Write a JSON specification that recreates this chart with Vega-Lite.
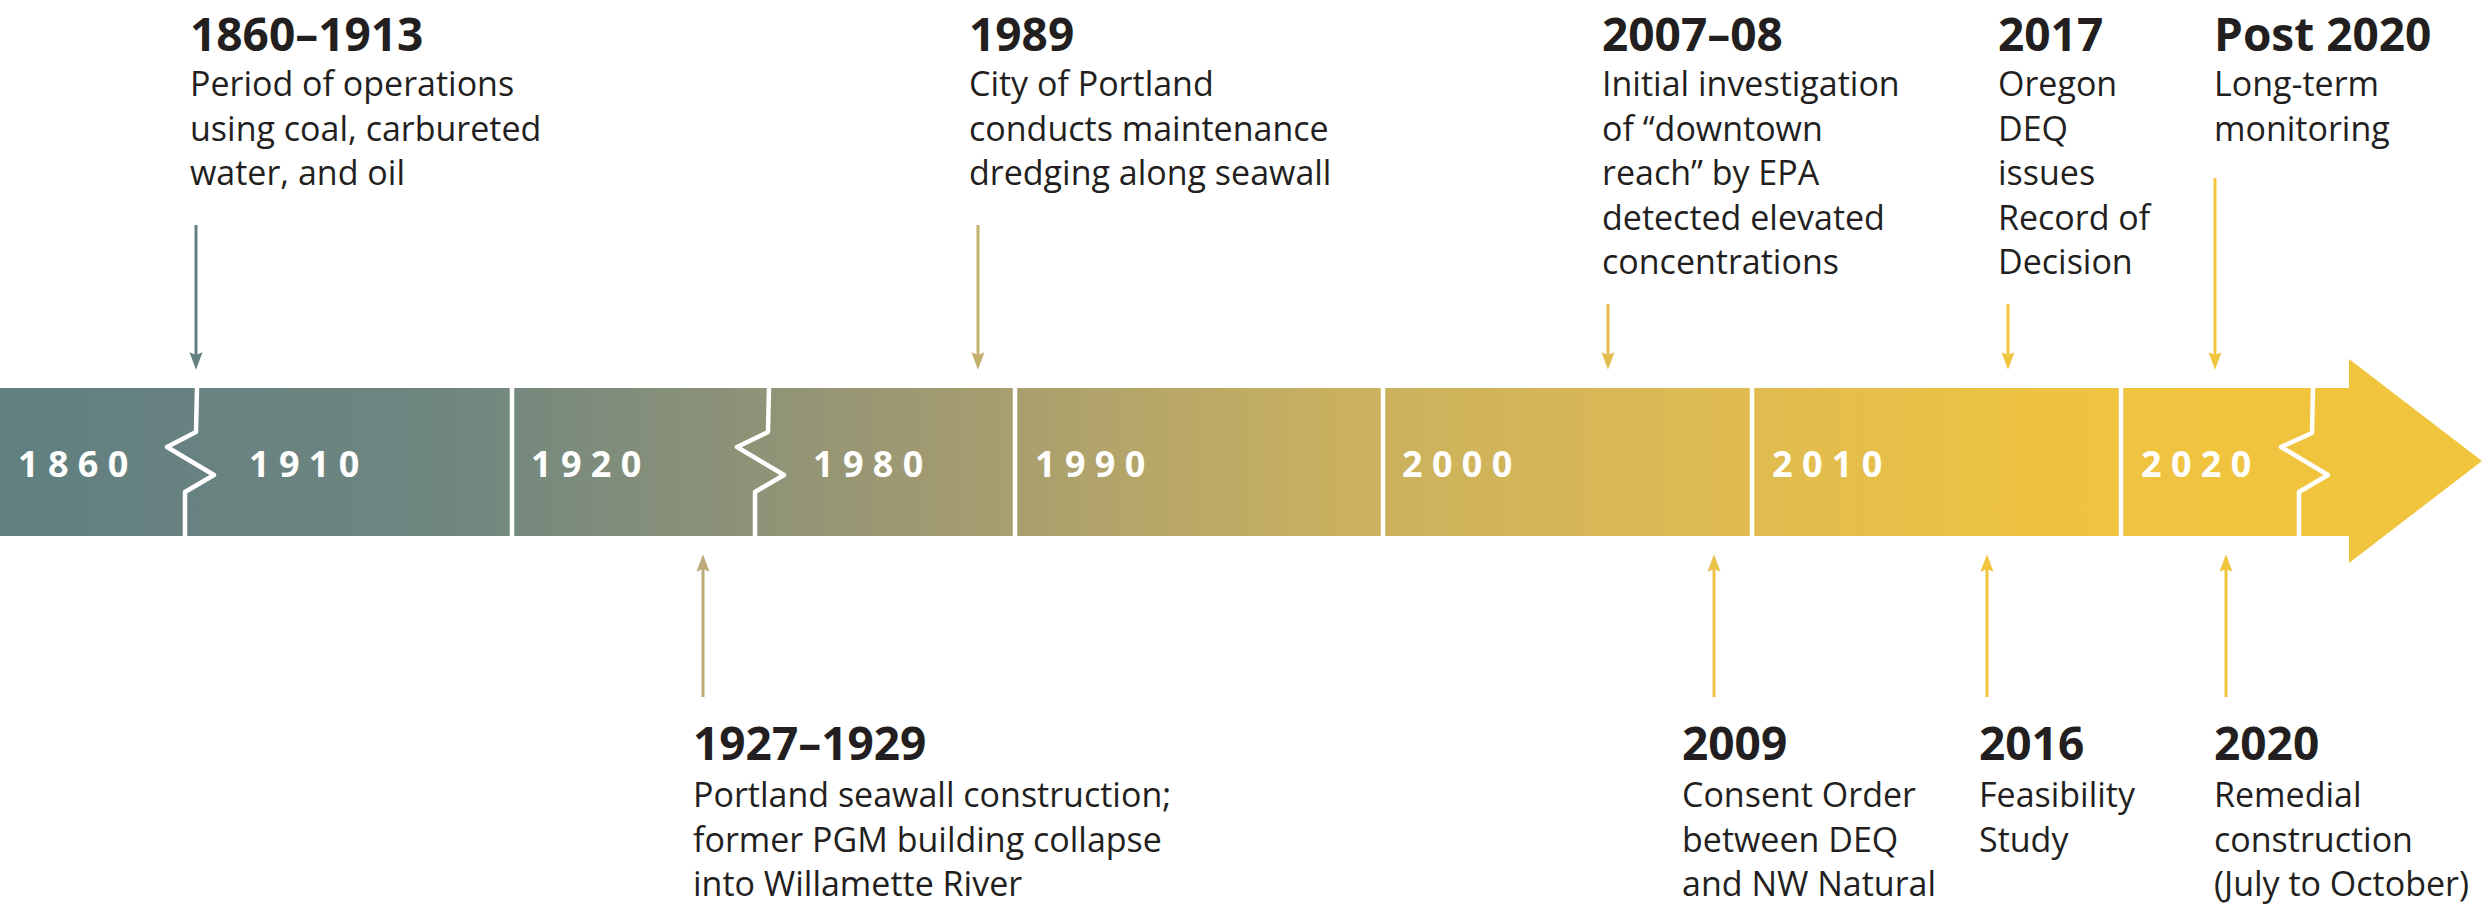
{
  "$schema": "https://vega.github.io/schema/vega-lite/v6.json",
  "autosize": {"type": "fit", "contains": "padding"},
  "width": 2483,
  "height": 909,
  "padding": 0,
  "background": "white",
  "config": {"view": {"stroke": null}},
  "datasets": {
    "bar": [{"x0": 0, "x1": 2352, "y0": 388, "y1": 536}],
    "head": [{"x": 2349, "top": 359, "bot": 563}, {"x": 2482, "top": 461, "bot": 461}],
    "seps": [
      {"x": 512, "y0": 388, "y1": 536},
      {"x": 1015, "y0": 388, "y1": 536},
      {"x": 1383, "y0": 388, "y1": 536},
      {"x": 1752, "y0": 388, "y1": 536},
      {"x": 2121, "y0": 388, "y1": 536}
    ],
    "breaks": [
      {"brk": "A", "seq": 1, "x": 197, "y": 388},
      {"brk": "A", "seq": 2, "x": 196, "y": 432},
      {"brk": "A", "seq": 3, "x": 167, "y": 447},
      {"brk": "A", "seq": 4, "x": 214, "y": 475},
      {"brk": "A", "seq": 5, "x": 185, "y": 492},
      {"brk": "A", "seq": 6, "x": 185, "y": 536},
      {"brk": "B", "seq": 1, "x": 769, "y": 388},
      {"brk": "B", "seq": 2, "x": 768, "y": 432},
      {"brk": "B", "seq": 3, "x": 737, "y": 447},
      {"brk": "B", "seq": 4, "x": 784, "y": 475},
      {"brk": "B", "seq": 5, "x": 755, "y": 492},
      {"brk": "B", "seq": 6, "x": 755, "y": 536},
      {"brk": "C", "seq": 1, "x": 2313, "y": 388},
      {"brk": "C", "seq": 2, "x": 2312, "y": 433},
      {"brk": "C", "seq": 3, "x": 2281, "y": 447},
      {"brk": "C", "seq": 4, "x": 2328, "y": 475},
      {"brk": "C", "seq": 5, "x": 2299, "y": 492},
      {"brk": "C", "seq": 6, "x": 2299, "y": 536}
    ],
    "years": [
      {"label": "1 8 6 0", "x": 18, "y": 477},
      {"label": "1 9 1 0", "x": 249, "y": 477},
      {"label": "1 9 2 0", "x": 531, "y": 477},
      {"label": "1 9 8 0", "x": 813, "y": 477},
      {"label": "1 9 9 0", "x": 1035, "y": 477},
      {"label": "2 0 0 0", "x": 1402, "y": 477},
      {"label": "2 0 1 0", "x": 1772, "y": 477},
      {"label": "2 0 2 0", "x": 2141, "y": 477}
    ],
    "arrows": [
      {"event": "1860–1913", "dir": "down", "x": 196, "y0": 225, "hy": 361},
      {"event": "1989", "dir": "down", "x": 978, "y0": 225, "hy": 361},
      {"event": "2007–08", "dir": "down", "x": 1608, "y0": 304, "hy": 361},
      {"event": "2017", "dir": "down", "x": 2008, "y0": 304, "hy": 361},
      {"event": "Post 2020", "dir": "down", "x": 2215, "y0": 178, "hy": 361},
      {"event": "1927–1929", "dir": "up", "x": 703, "y0": 697, "hy": 563},
      {"event": "2009", "dir": "up", "x": 1714, "y0": 697, "hy": 563},
      {"event": "2016", "dir": "up", "x": 1987, "y0": 697, "hy": 563},
      {"event": "2020", "dir": "up", "x": 2226, "y0": 697, "hy": 563}
    ],
    "events": [
      {"title": "1860–1913", "body": "Period of operations\nusing coal, carbureted\nwater, and oil", "x": 190, "ty": 51, "by": 96},
      {"title": "1989", "body": "City of Portland\nconducts maintenance\ndredging along seawall", "x": 969, "ty": 51, "by": 96},
      {"title": "2007–08", "body": "Initial investigation\nof “downtown\nreach” by EPA\ndetected elevated\nconcentrations", "x": 1602, "ty": 51, "by": 96},
      {"title": "2017", "body": "Oregon\nDEQ\nissues\nRecord of\nDecision", "x": 1998, "ty": 51, "by": 96},
      {"title": "Post 2020", "body": "Long-term\nmonitoring", "x": 2214, "ty": 51, "by": 96},
      {"title": "1927–1929", "body": "Portland seawall construction;\nformer PGM building collapse\ninto Willamette River", "x": 693, "ty": 760, "by": 807},
      {"title": "2009", "body": "Consent Order\nbetween DEQ\nand NW Natural", "x": 1682, "ty": 760, "by": 807},
      {"title": "2016", "body": "Feasibility\nStudy", "x": 1979, "ty": 760, "by": 807},
      {"title": "2020", "body": "Remedial\nconstruction\n(July to October)", "x": 2214, "ty": 760, "by": 807}
    ]
  },
  "layer": [
    {
      "data": {"name": "bar"},
      "mark": {
        "type": "rect",
        "fill": {
          "gradient": "linear", "x1": 0, "y1": 0, "x2": 1, "y2": 0,
          "stops": [
            {"offset": 0, "color": "#617f80"},
            {"offset": 0.19, "color": "#6f8680"},
            {"offset": 0.395, "color": "#a09a72"},
            {"offset": 0.565, "color": "#c8b060"},
            {"offset": 0.714, "color": "#dcb953"},
            {"offset": 0.863, "color": "#eec342"},
            {"offset": 1, "color": "#f0c43c"}
          ]
        }
      },
      "encoding": {
        "x": {"field": "x0", "type": "quantitative", "scale": {"domain": [0, 2483], "nice": false, "zero": false}, "axis": null},
        "x2": {"field": "x1"},
        "y": {"field": "y0", "type": "quantitative", "scale": {"domain": [0, 909], "nice": false, "zero": false, "reverse": true}, "axis": null},
        "y2": {"field": "y1"}
      }
    },
    {
      "data": {"name": "head"},
      "mark": {"type": "area", "color": "#f0c43c", "interpolate": "linear"},
      "encoding": {
        "x": {"field": "x", "type": "quantitative"},
        "y": {"field": "top", "type": "quantitative"},
        "y2": {"field": "bot"}
      }
    },
    {
      "data": {"name": "seps"},
      "mark": {"type": "rule", "color": "white", "strokeWidth": 4.5},
      "encoding": {
        "x": {"field": "x", "type": "quantitative"},
        "y": {"field": "y0", "type": "quantitative"},
        "y2": {"field": "y1"}
      }
    },
    {
      "data": {"name": "breaks"},
      "mark": {"type": "line", "color": "white", "strokeWidth": 4.5, "strokeJoin": "round"},
      "encoding": {
        "x": {"field": "x", "type": "quantitative"},
        "y": {"field": "y", "type": "quantitative"},
        "detail": {"field": "brk"},
        "order": {"field": "seq", "type": "quantitative"}
      }
    },
    {
      "data": {"name": "years"},
      "mark": {"type": "text", "align": "left", "baseline": "alphabetic", "font": "Open Sans", "fontWeight": "bold", "fontSize": 36, "color": "white"},
      "encoding": {
        "x": {"field": "x", "type": "quantitative"},
        "y": {"field": "y", "type": "quantitative"},
        "text": {"field": "label"}
      }
    },
    {
      "data": {"name": "arrows"},
      "mark": {"type": "rule", "strokeWidth": 3},
      "encoding": {
        "x": {"field": "x", "type": "quantitative"},
        "y": {"field": "y0", "type": "quantitative"},
        "y2": {"field": "hy"},
        "color": {
          "field": "x", "type": "quantitative", "legend": null,
          "scale": {"domain": [0, 250, 703, 978, 1608, 1714, 2000], "range": ["#617f80", "#647f80", "#bcab78", "#c4b06c", "#e4bd4e", "#eac14a", "#f0c43c"], "clamp": true, "interpolate": "rgb"}
        }
      }
    },
    {
      "data": {"name": "arrows"},
      "transform": [{"filter": "datum.dir === 'down'"}],
      "mark": {"type": "point", "filled": true, "opacity": 1, "size": 300, "strokeWidth": 0, "shape": "M0,1L-0.75,-1L0,-0.7L0.75,-1Z"},
      "encoding": {
        "x": {"field": "x", "type": "quantitative"},
        "y": {"field": "hy", "type": "quantitative"},
        "color": {"field": "x", "type": "quantitative", "legend": null}
      }
    },
    {
      "data": {"name": "arrows"},
      "transform": [{"filter": "datum.dir === 'up'"}],
      "mark": {"type": "point", "filled": true, "opacity": 1, "size": 300, "strokeWidth": 0, "shape": "M0,-1L-0.75,1L0,0.7L0.75,1Z"},
      "encoding": {
        "x": {"field": "x", "type": "quantitative"},
        "y": {"field": "hy", "type": "quantitative"},
        "color": {"field": "x", "type": "quantitative", "legend": null}
      }
    },
    {
      "data": {"name": "events"},
      "mark": {"type": "text", "align": "left", "baseline": "alphabetic", "font": "Open Sans", "fontWeight": "bold", "fontSize": 46, "color": "#231f20"},
      "encoding": {
        "x": {"field": "x", "type": "quantitative"},
        "y": {"field": "ty", "type": "quantitative"},
        "text": {"field": "title"}
      }
    },
    {
      "data": {"name": "events"},
      "mark": {"type": "text", "align": "left", "baseline": "alphabetic", "font": "Open Sans", "fontSize": 34, "lineHeight": 44.5, "lineBreak": "\n", "color": "#231f20"},
      "encoding": {
        "x": {"field": "x", "type": "quantitative"},
        "y": {"field": "by", "type": "quantitative"},
        "text": {"field": "body"}
      }
    }
  ]
}
